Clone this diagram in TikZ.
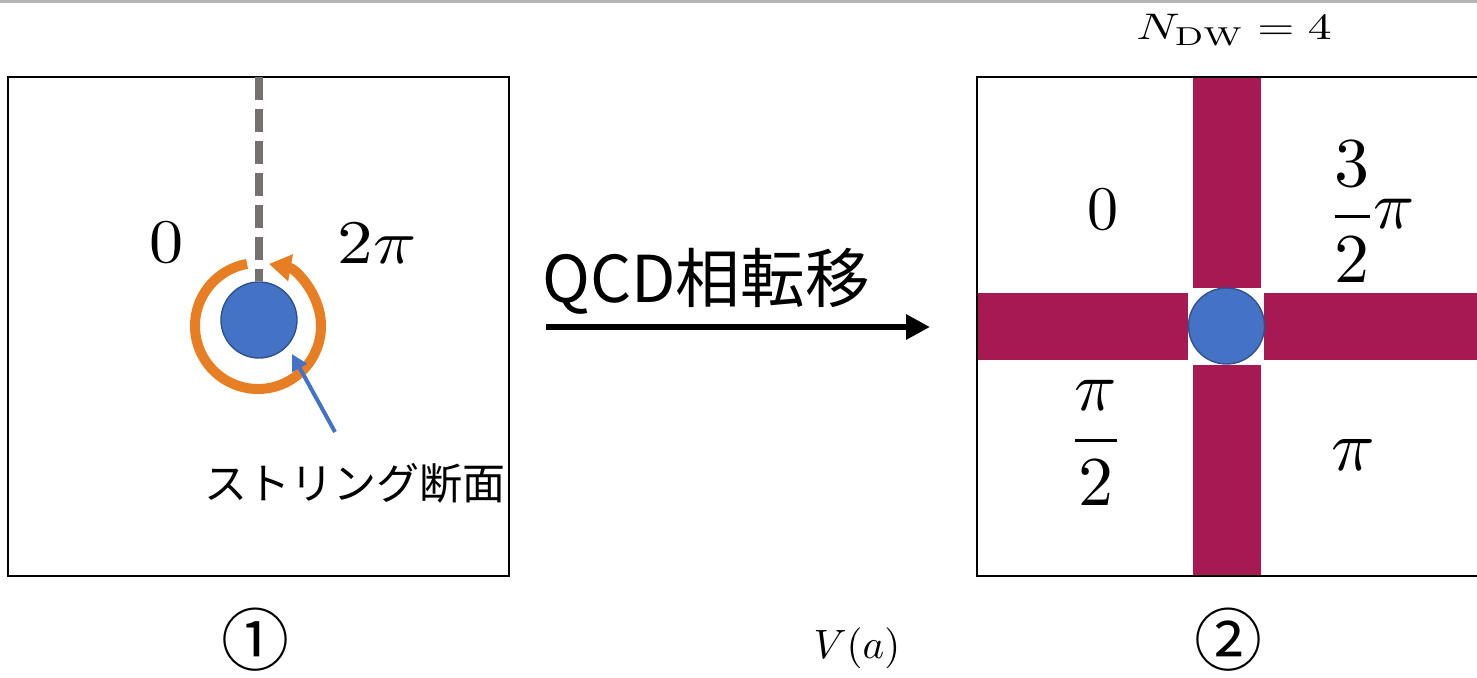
\documentclass[tikz,border=0pt]{standalone}
\usepackage{amsmath}
\usepackage{fontspec}
\newfontfamily\cjk{Noto Sans CJK JP}
\usetikzlibrary{arrows.meta}
\definecolor{coreblue}{HTML}{4472C4}
\definecolor{coreedge}{HTML}{2F528F}
\definecolor{ringorange}{RGB}{232,126,36}
\definecolor{cutgray}{HTML}{767171}
\definecolor{wallred}{RGB}{167,25,82}
\definecolor{topgray}{RGB}{180,180,180}
\tikzset{
  frame/.style={draw=black, line width=1pt, inner sep=0pt, outer sep=0pt,
    minimum width=250.5pt, minimum height=249.5pt},
  core/.style={circle, fill=coreblue, draw=coreedge, line width=0.7pt,
    minimum size=38pt, inner sep=0pt},
  wall/.style={fill=wallred, draw=none},
  lbl/.style={inner sep=0pt, outer sep=0pt},
  mth/.style={lbl, font=\fontsize{10}{12}\selectfont, scale=#1},
  jp/.style={lbl, font=\cjk\fontsize{#1}{#1}\selectfont},
}
\begin{document}
\begin{tikzpicture}[x=0.5pt,y=0.5pt]
\useasboundingbox (0,0) rectangle (1477,-678);
\fill[topgray] (0,0) rectangle (1477,-3);

% ---- left panel ----
\node[frame] (boxL) at (258.5,-326.5) {};
\node[core] (coreL) at (259,-320) {};
\draw[cutgray, line width=4pt, dash pattern=on 11.5pt off 4.5pt]
  (coreL.north |- boxL.north) -- (coreL.north);
\coordinate (ringC) at (258,-326);
\draw[ringorange, line width=5pt, -{Triangle[length=11pt,width=13pt]}]
  (ringC) ++(100:63) arc[start angle=100, end angle=440, radius=63];
\node[jp=21.5] (capL) at (355,-483) {ストリング断面};
\coordinate (ptrS) at (335,-432);
\coordinate (ptrE) at (292,-354);
\draw[coreblue, line width=2pt, -{Triangle[length=8pt,width=8pt]}] (ptrS) -- (ptrE);
\node[mth=3.1, xscale=1.1] (zeroL) at (167,-243) {$0$};
\node[mth=3.1, xscale=1.15] (twopi) at (377,-244) {$2\pi$};
\node[jp=34] (one) at (255,-640) {①};

% ---- transition arrow ----
\coordinate (arrS) at (546,-327);
\coordinate (arrE) at (930,-327);
\draw[line width=3pt, -{Triangle[length=12pt,width=12pt]}] (arrS) -- (arrE);
\node[jp=32.3] (qcd) at (706,-281) {QCD相転移};
\node[mth=2.05] (pot) at (857,-648) {$V(a)$};

% ---- right panel ----
\fill[wall] (1193,-77) rectangle (1261,-288);
\fill[wall] (1193,-365) rectangle (1261,-576);
\fill[wall] (977,-293) rectangle (1188,-360);
\fill[wall] (1264,-293) rectangle (1477,-360);
\node[frame] (boxR) at (1227,-326.5) {};
\node[core] (coreR) at (1226.5,-326) {};
\node[mth=1.85, xscale=1.29] (ndw) at (1234,-30) {$N_{\mathrm{DW}}=4$};
\node[mth=3.1] (zeroR) at (1103,-210) {$0$};
\node[mth=3.5] (threehalf) at (1352,-212) {$\dfrac{3}{2}$};
\node[mth=3.4] (piA) at (1394,-214) {$\pi$};
\node[mth=3.5] (pihalf) at (1096,-443) {$\dfrac{\pi}{2}$};
\node[mth=3.6] (piB) at (1353,-455) {$\pi$};
\node[jp=34] (two) at (1228,-640) {②};
\end{tikzpicture}
\end{document}
